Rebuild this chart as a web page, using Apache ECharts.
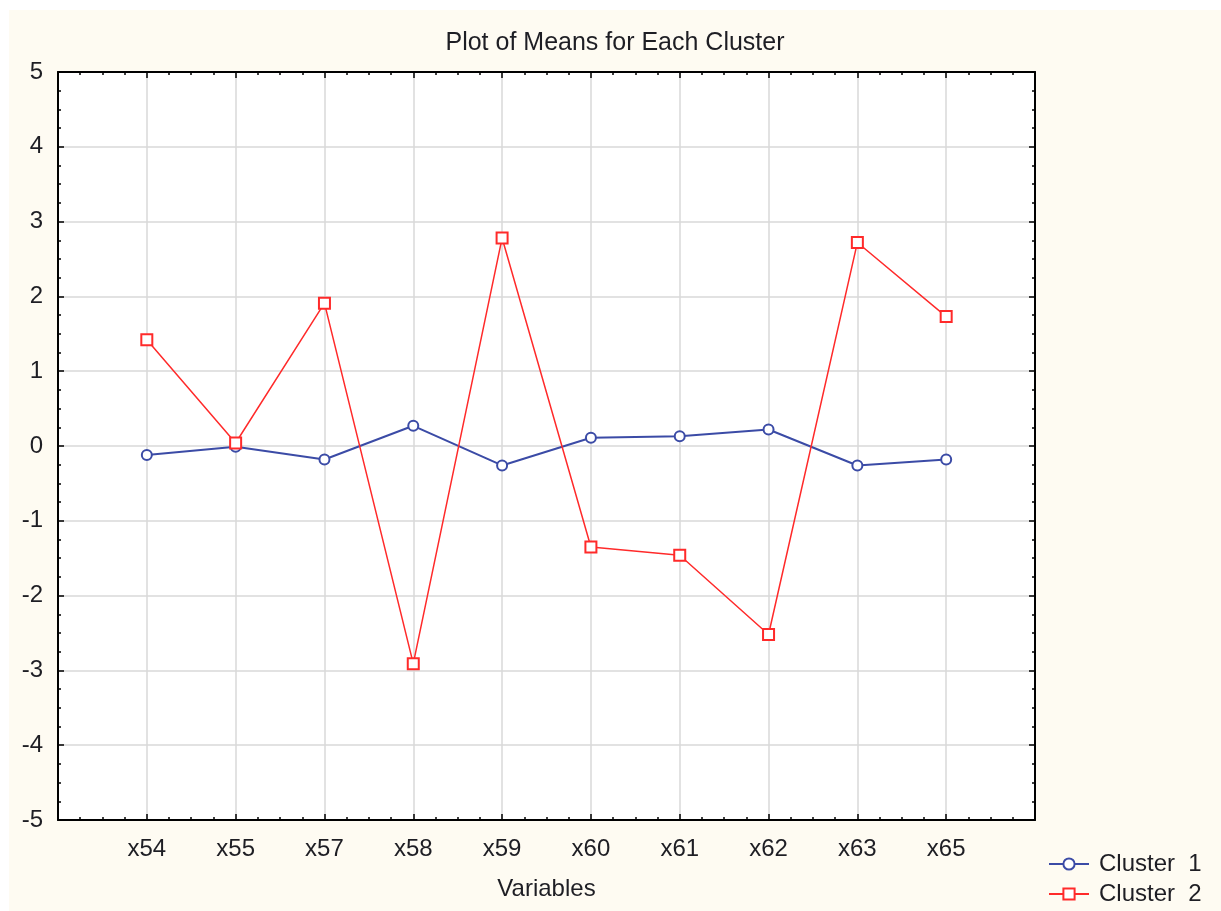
<!DOCTYPE html>
<html>
<head>
<meta charset="utf-8">
<script src="https://cdn.jsdelivr.net/npm/echarts@6/dist/echarts.min.js"></script>
<style>
html,body{margin:0;padding:0;background:#ffffff;}
#chart{position:absolute;left:9px;top:10px;width:1212px;height:901px;}
</style>
</head>
<body>
<div id="chart"></div>
<script>
var categories = ['x54','x55','x57','x58','x59','x60','x61','x62','x63','x65'];
var cluster1 = [-0.12, -0.01, -0.18, 0.27, -0.26, 0.11, 0.13, 0.22, -0.26, -0.18];
var cluster2 = [1.42, 0.04, 1.91, -2.91, 2.78, -1.35, -1.46, -2.52, 2.72, 1.73];
var yTicks = [-5, -4, -3, -2, -1, 0, 1, 2, 3, 4, 5];
var seriesNames = ['Cluster  1', 'Cluster  2'];

function toPoints(arr){ return arr.map(function(v,i){ return [i+1, v]; }); }

var font = 'Liberation Sans, Arial, sans-serif';
var textColor = '#1e1e24';

var chart = echarts.init(document.getElementById('chart'));
var axisLine = { show: true, onZero: false, lineStyle: { color: '#000', width: 2 } };
var baseX = {
  type: 'value', min: 0, max: categories.length + 1, interval: 1,
  axisLine: axisLine,
  axisTick: { show: true, inside: true, length: 6, lineStyle: { color: '#000', width: 1.5 } },
  minorTick: { show: true, splitNumber: 4, length: 3, lineStyle: { color: '#000', width: 1.5 } },
  minorSplitLine: { show: false }
};
var baseY = {
  type: 'value', min: yTicks[0], max: yTicks[yTicks.length-1], interval: 1,
  axisLine: axisLine,
  axisTick: { show: true, inside: true, length: 6, lineStyle: { color: '#000', width: 1.5 } },
  minorTick: { show: true, splitNumber: 4, length: 3, lineStyle: { color: '#000', width: 1.5 } },
  minorSplitLine: { show: false }
};
function legendFor(name, top){
  return {
    orient: 'vertical', left: 1034, top: top,
    itemWidth: 40, itemHeight: 14,
    textStyle: { fontFamily: font, fontSize: 24, color: textColor, padding: [0,0,0,5] },
    data: [name]
  };
}

chart.setOption({
  backgroundColor: '#fefbf2',
  animation: false,
  title: {
    text: 'Plot of Means for Each Cluster',
    left: 'center', top: 16,
    textStyle: { fontFamily: font, fontSize: 25, fontWeight: 'normal', color: textColor }
  },
  grid: {
    left: 49, top: 62, width: 977, height: 748,
    show: true, backgroundColor: '#ffffff', borderWidth: 0,
    containLabel: false, outerBoundsMode: 'none'
  },
  legend: [legendFor(seriesNames[0], 837), legendFor(seriesNames[1], 867)],
  xAxis: [
    Object.assign({}, baseX, {
      position: 'bottom',
      name: 'Variables', nameLocation: 'middle', nameGap: 57,
      nameTextStyle: { fontFamily: font, fontSize: 24, color: textColor },
      axisLabel: {
        margin: 17, fontFamily: font, fontSize: 24, color: textColor,
        showMinLabel: true, showMaxLabel: true,
        formatter: function(v){ return (v >= 1 && v <= categories.length) ? categories[v-1] : ''; }
      },
      splitLine: { show: true, lineStyle: { color: '#d9d9d9', width: 1.5 } }
    }),
    Object.assign({}, baseX, {
      position: 'top',
      axisLabel: { show: false },
      splitLine: { show: false }
    })
  ],
  yAxis: [
    Object.assign({}, baseY, {
      position: 'left',
      axisLabel: { margin: 15, fontFamily: font, fontSize: 24, color: textColor },
      splitLine: { show: true, lineStyle: { color: '#d9d9d9', width: 1.5 } }
    }),
    Object.assign({}, baseY, {
      position: 'right',
      axisLabel: { show: false },
      splitLine: { show: false }
    })
  ],
  series: [
    {
      name: seriesNames[0], type: 'line', xAxisIndex: 0, yAxisIndex: 0,
      data: toPoints(cluster1),
      symbol: 'emptyCircle', symbolSize: 10,
      lineStyle: { color: '#3b4ba6', width: 2 },
      itemStyle: { color: '#3b4ba6', borderColor: '#3b4ba6', borderWidth: 2 }
    },
    {
      name: seriesNames[1], type: 'line', xAxisIndex: 0, yAxisIndex: 0,
      data: toPoints(cluster2),
      symbol: 'emptyRect', symbolSize: 11,
      lineStyle: { color: '#ff2a2a', width: 1.5 },
      itemStyle: { color: '#ff2a2a', borderColor: '#ff2a2a', borderWidth: 1.5 }
    }
  ]
});
</script>
</body>
</html>
